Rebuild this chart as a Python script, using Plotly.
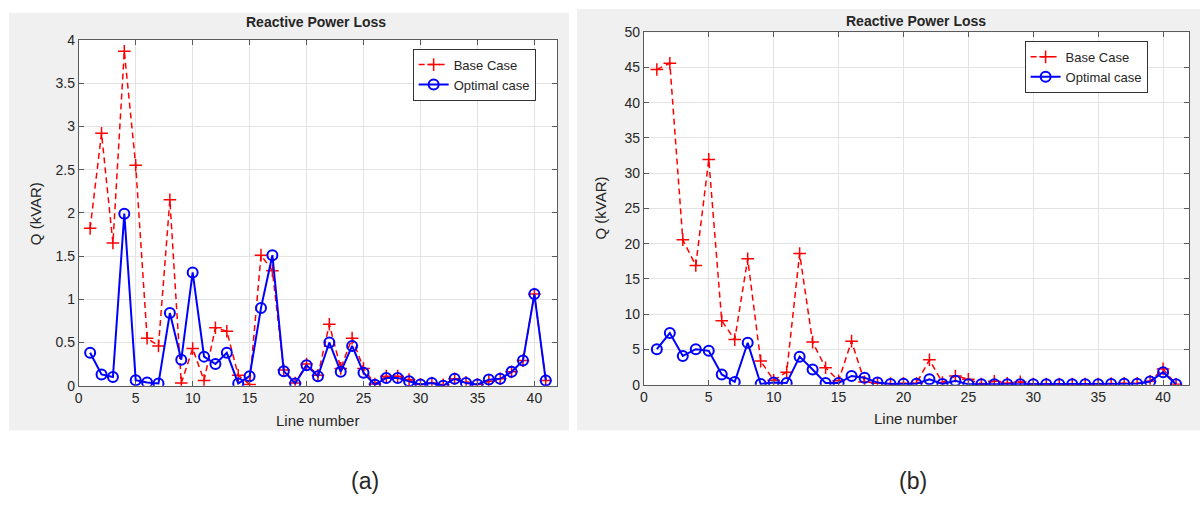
import plotly.graph_objects as go

# Line numbers 1..41
line_no = list(range(1, 42))

# (a) Reactive power loss, kVAR
q_base_a = [1.82, 2.92, 1.65, 3.87, 2.55, 0.55, 0.46, 2.15, 0.03, 0.43,
            0.06, 0.67, 0.63, 0.12, 0.015, 1.51, 1.33, 0.18, 0.03, 0.25,
            0.12, 0.71, 0.2, 0.55, 0.2, 0.02, 0.11, 0.11, 0.07, 0.015,
            0.03, 0.01, 0.08, 0.04, 0.015, 0.05, 0.08, 0.16, 0.29, 1.06, 0.06]
q_opt_a = [0.38, 0.13, 0.10, 1.99, 0.064, 0.037, 0.026, 0.84, 0.30, 1.31,
           0.336, 0.25, 0.38, 0.026, 0.11, 0.90, 1.51, 0.168, 0.026, 0.235,
           0.11, 0.50, 0.16, 0.46, 0.15, 0.01, 0.09, 0.09, 0.05, 0.015,
           0.03, 0.0, 0.08, 0.03, 0.015, 0.07, 0.08, 0.16, 0.29, 1.06, 0.06]

# (b) Reactive power loss, kVAR
q_base_b = [44.7, 45.6, 20.56, 16.9, 31.96, 9.07, 6.4, 17.86, 3.35, 0.64,
            1.78, 18.6, 6.04, 2.4, 0.55, 6.18, 0.4, 0.2, 0.15, 0.2,
            0.2, 3.53, 0.3, 1.24, 0.78, 0.1, 0.5, 0.2, 0.4, 0.1,
            0.1, 0.1, 0.1, 0.1, 0.1, 0.15, 0.2, 0.2, 0.5, 2.24, 0.05]
q_opt_b = [5.04, 7.33, 4.08, 5.04, 4.8, 1.46, 0.4, 5.95, 0.1, 0.32,
           0.23, 3.98, 2.15, 0.23, 0.23, 1.24, 1.0, 0.3, 0.1, 0.15,
           0.15, 0.78, 0.1, 0.55, 0.05, 0.05, 0.05, 0.05, 0.05, 0.05,
           0.05, 0.05, 0.05, 0.05, 0.05, 0.1, 0.15, 0.15, 0.45, 1.78, 0.05]

x_ticks = [0, 5, 10, 15, 20, 25, 30, 35, 40]
y_ticks_a = [0, 0.5, 1, 1.5, 2, 2.5, 3, 3.5, 4]
y_ticks_b = [0, 5, 10, 15, 20, 25, 30, 35, 40, 45, 50]

W, H = 1203, 506
FONT = "Liberation Sans, Arial, sans-serif"
TXT = "#262626"


def px_x(p):
    return p / W


def px_y(p):
    return 1 - p / H


fig = go.Figure()

base_style = dict(mode="lines+markers", name="Base Case",
                  line=dict(color="#ff0000", width=1.5, dash="6px,4px"),
                  marker=dict(symbol="cross-thin-open", size=9,
                              line=dict(color="#ff0000", width=1.5)))
opt_style = dict(mode="lines+markers", name="Optimal case",
                 line=dict(color="#0000ff", width=2),
                 marker=dict(symbol="circle-open", size=10,
                             line=dict(color="#0000ff", width=2)))

fig.add_trace(go.Scatter(x=line_no, y=q_base_a, xaxis="x", yaxis="y",
                         legend="legend", **base_style))
fig.add_trace(go.Scatter(x=line_no, y=q_opt_a, xaxis="x", yaxis="y",
                         legend="legend", **opt_style))
fig.add_trace(go.Scatter(x=line_no, y=q_base_b, xaxis="x2", yaxis="y2",
                         legend="legend2", **base_style))
fig.add_trace(go.Scatter(x=line_no, y=q_opt_b, xaxis="x2", yaxis="y2",
                         legend="legend2", **opt_style))

axis_common = dict(showgrid=True, gridcolor="#e3e3e3", gridwidth=1,
                   showline=True, linecolor="#5a5a5a", linewidth=1,
                   mirror="ticks", ticks="inside", ticklen=5,
                   tickcolor="#5a5a5a", zeroline=False,
                   tickfont=dict(family=FONT, size=14, color=TXT))

# panel a plot area: x 75..555, y 33..390
# panel b plot area: x 642..1189, y 25..389
fig.update_layout(
    width=W, height=H, margin=dict(l=0, r=0, t=0, b=0),
    paper_bgcolor="white", plot_bgcolor="rgba(0,0,0,0)",
    font=dict(family=FONT, color=TXT),
    xaxis=dict(domain=[px_x(75), px_x(555)], range=[0, 42],
               tickvals=x_ticks, anchor="y", **axis_common),
    yaxis=dict(domain=[px_y(390), px_y(33)], range=[0, 4],
               tickvals=y_ticks_a, anchor="x", **axis_common),
    xaxis2=dict(domain=[px_x(642), px_x(1189)], range=[0, 42],
                tickvals=x_ticks, anchor="y2", **axis_common),
    yaxis2=dict(domain=[px_y(389), px_y(25)], range=[0, 50],
                tickvals=y_ticks_b, anchor="x2", **axis_common),
    legend=dict(x=px_x(410), y=px_y(42), xanchor="left", yanchor="top",
                bgcolor="white", bordercolor="#333", borderwidth=1,
                font=dict(family=FONT, size=13, color=TXT),
                tracegroupgap=0, itemwidth=30),
    legend2=dict(x=px_x(1024), y=px_y(34), xanchor="left", yanchor="top",
                 bgcolor="white", bordercolor="#333", borderwidth=1,
                 font=dict(family=FONT, size=13, color=TXT),
                 tracegroupgap=0, itemwidth=30),
)

# grey figure panels and white axes backgrounds
shapes = [
    dict(x0=px_x(5), x1=px_x(567), y0=px_y(436), y1=px_y(5)),
    dict(x0=px_x(575), x1=px_x(1200), y0=px_y(436), y1=px_y(1)),
]
for s in shapes:
    fig.add_shape(type="rect", xref="paper", yref="paper", layer="below",
                  fillcolor="#f0f0f0", line=dict(width=0), **s)
fig.add_shape(type="rect", xref="paper", yref="paper", layer="below",
              x0=px_x(75), x1=px_x(555), y0=px_y(390), y1=px_y(33),
              fillcolor="white", line=dict(width=0))
fig.add_shape(type="rect", xref="paper", yref="paper", layer="below",
              x0=px_x(642), x1=px_x(1189), y0=px_y(389), y1=px_y(25),
              fillcolor="white", line=dict(width=0))


def label(x, y, text, size=14, bold=False, angle=0):
    fig.add_annotation(x=px_x(x), y=px_y(y), xref="paper", yref="paper",
                       text=f"<b>{text}</b>" if bold else text,
                       showarrow=False, textangle=angle,
                       xanchor="center", yanchor="middle",
                       font=dict(family=FONT, size=size, color=TXT))


label(313, 14, "Reactive Power Loss", size=14, bold=True)
label(915, 13, "Reactive Power Loss", size=14, bold=True)
label(315, 426, "Line number", size=15)
label(915, 424, "Line number", size=15)
label(31, 212, "Q (kVAR)", size=15, angle=-90)
label(598, 207, "Q (kVAR)", size=15, angle=-90)
label(362, 488, "(a)", size=23)
label(912, 488, "(b)", size=23)

fig.write_html("out.html")
